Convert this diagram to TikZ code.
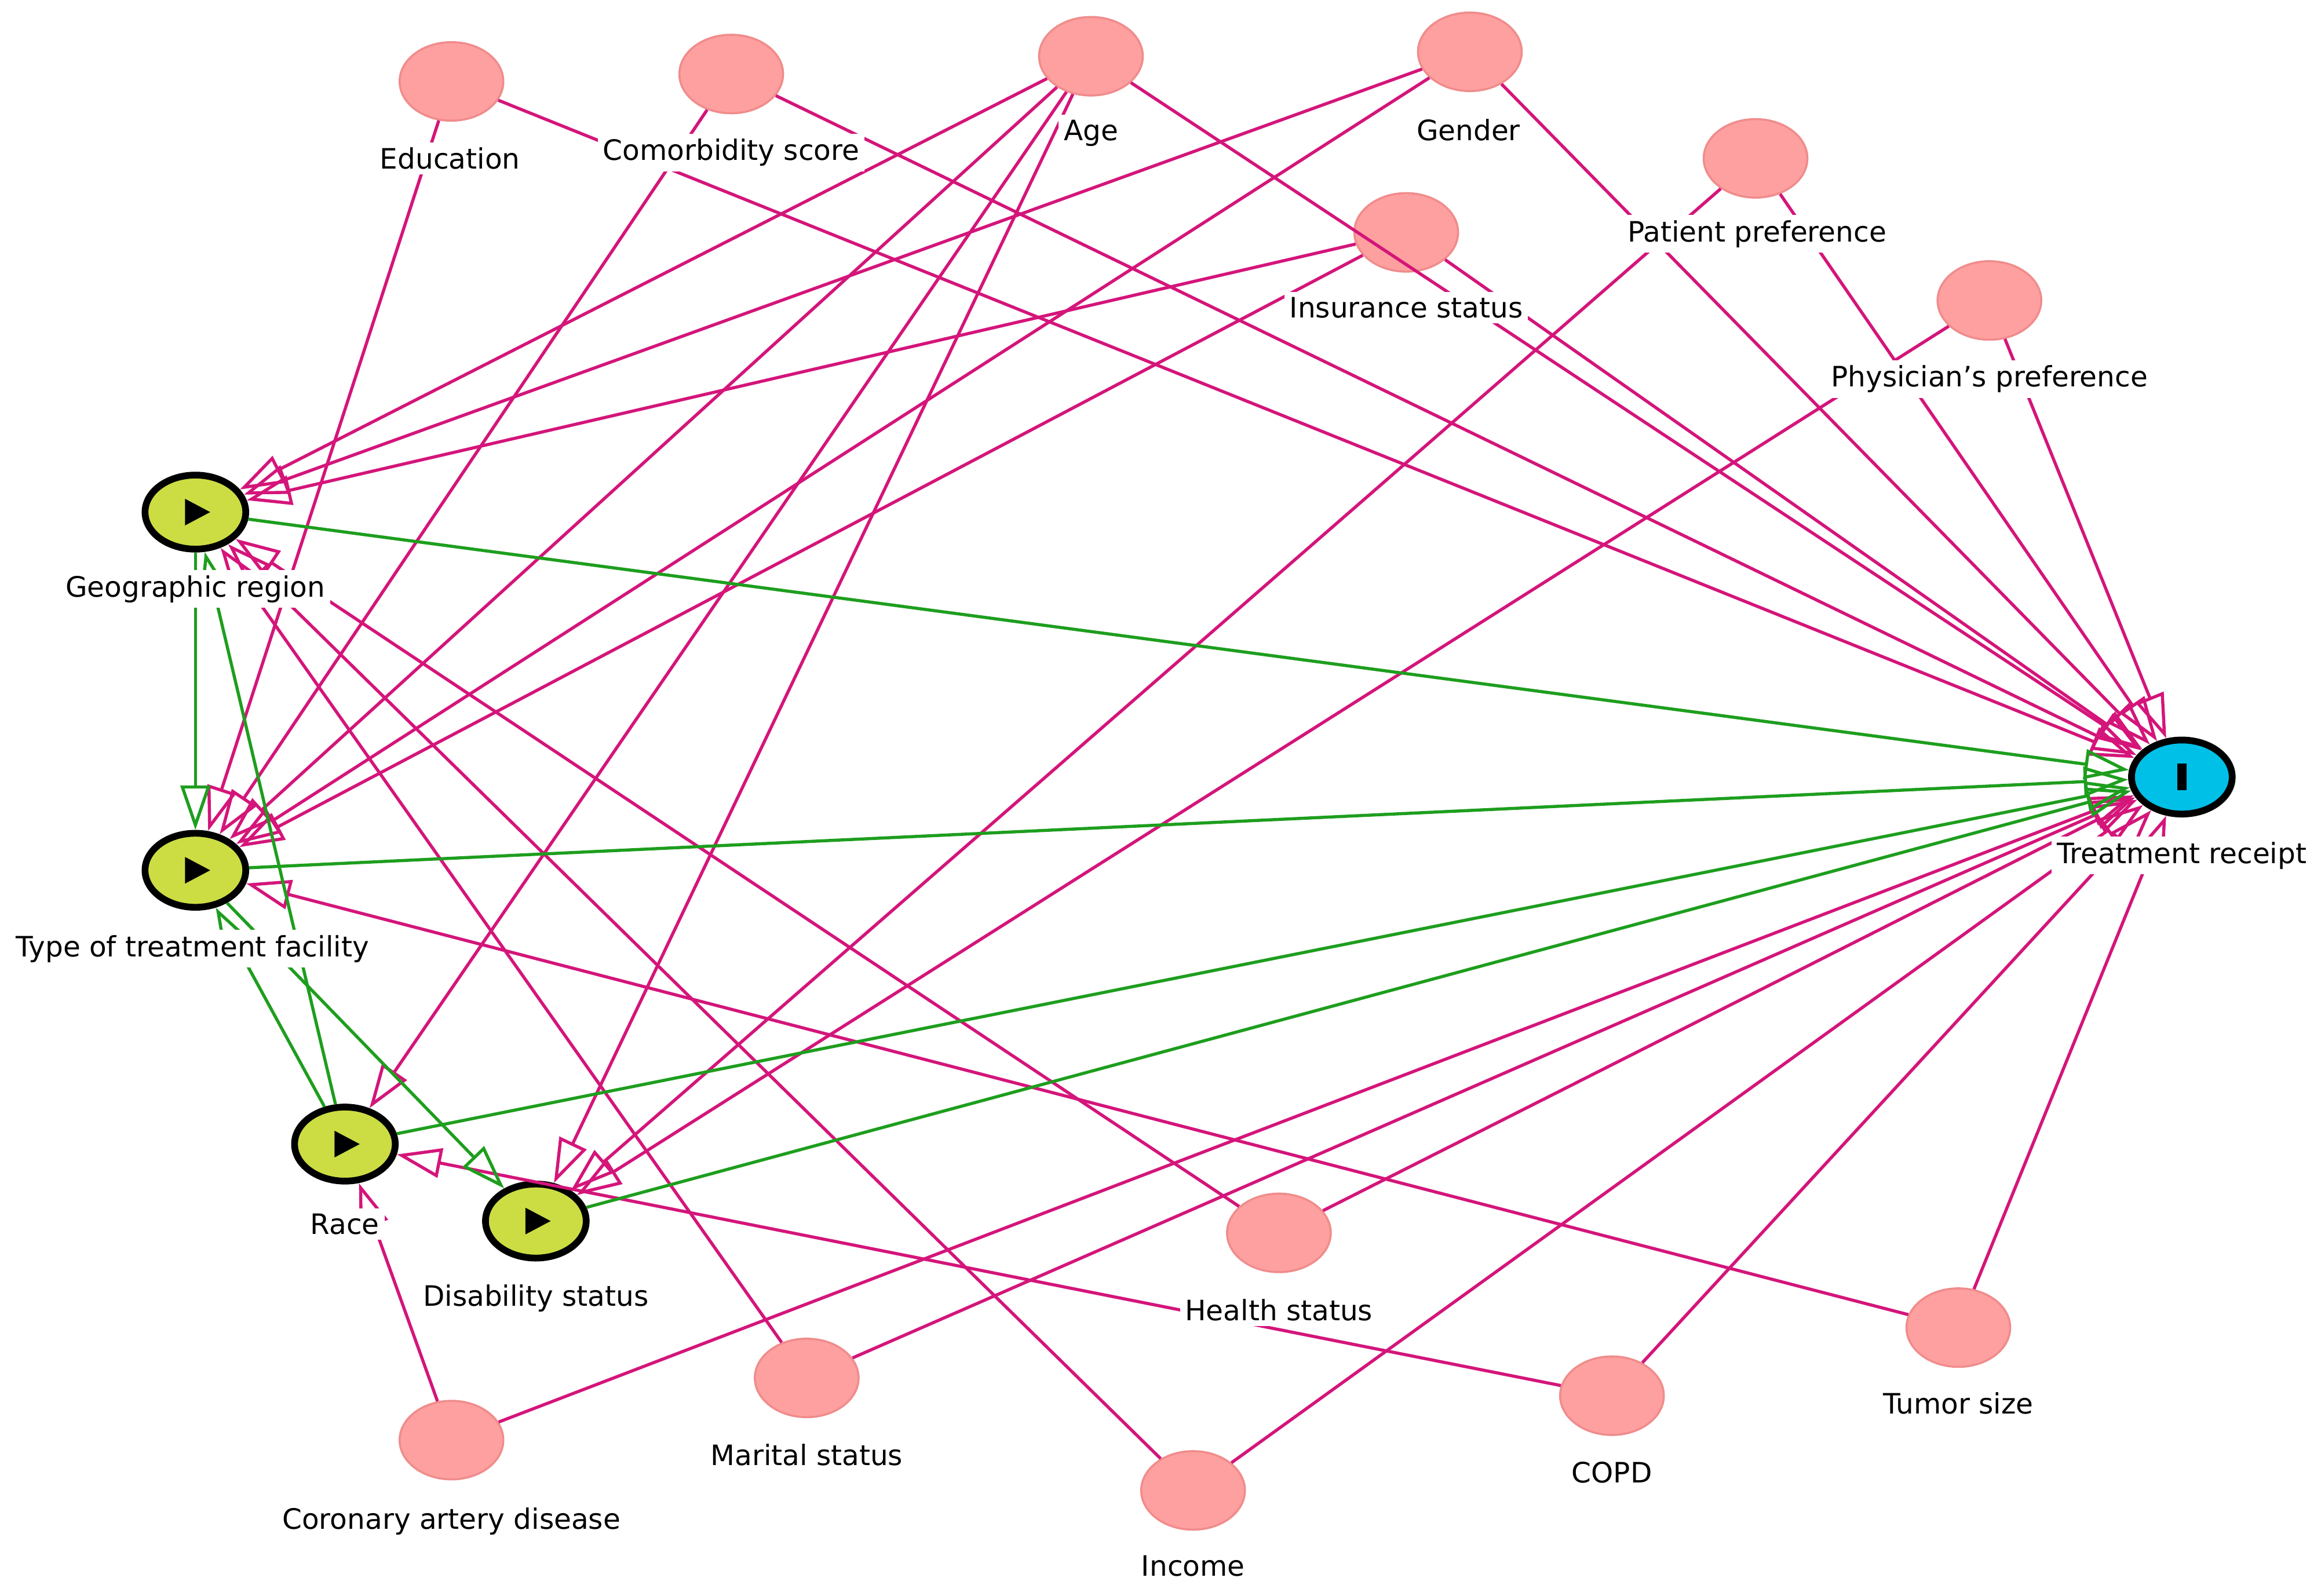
\documentclass[tikz,border=0pt]{standalone}
\usepackage{fontspec}
\setmainfont{DejaVu Sans}
\usetikzlibrary{shapes.geometric,arrows.meta}
\definecolor{pk}{HTML}{FFA0A0}
\definecolor{pkb}{HTML}{F08C8C}
\definecolor{mg}{HTML}{D4157A}
\definecolor{gr}{HTML}{1E9E1E}
\definecolor{yg}{HTML}{CCDD44}
\definecolor{cy}{HTML}{00C0E8}
\begin{document}
\begin{tikzpicture}[x=0.01cm,y=-0.01cm,
  var/.style={ellipse,fill=pk,draw=pkb,line width=0.4pt,minimum width=0.7cm,minimum height=0.53cm,inner sep=0},
  expo/.style={ellipse,fill=yg,draw=black,line width=1.3pt,minimum width=0.68cm,minimum height=0.5cm,inner sep=0},
  outc/.style={ellipse,fill=cy,draw=black,line width=1.3pt,minimum width=0.68cm,minimum height=0.5cm,inner sep=0},
  lab/.style={fill=white,inner sep=1pt,font=\fontsize{5.4}{6}\selectfont},
  pe/.style={draw=mg,line width=0.6pt,-{Triangle[open,length=0.3cm,width=0.2cm]}},
  ge/.style={draw=gr,line width=0.6pt,-{Triangle[open,length=0.3cm,width=0.2cm]}}]
\useasboundingbox (0,0) rectangle (1568,1078);
% nodes
\node[var] (edu) at (305,55) {};
\node[var] (com) at (494,50) {};
\node[var] (age) at (737,38) {};
\node[var] (gen) at (993,35) {};
\node[var] (pat) at (1186,107) {};
\node[var] (ins) at (950,157) {};
\node[var] (phy) at (1344,203) {};
\node[var] (hea) at (864,833) {};
\node[var] (tum) at (1323,897) {};
\node[var] (cop) at (1089,943) {};
\node[var] (mar) at (545,931) {};
\node[var] (cor) at (305,973) {};
\node[var] (inc) at (806,1007) {};
\node[expo] (geo) at (132,346) {};
\node[expo] (typ) at (132,588) {};
\node[expo] (rac) at (233,773) {};
\node[expo] (dis) at (362,825) {};
\node[outc] (tre) at (1474,525) {};
% edges
\foreach \s in {edu,com,age,gen,ins,pat,phy,hea,tum,cop,mar,cor,inc} \draw[pe] (\s) -- (tre);
\foreach \s in {age,gen,ins,hea,mar,inc} \draw[pe] (\s) -- (geo);
\foreach \s in {edu,com,age,gen,ins,tum} \draw[pe] (\s) -- (typ);
\foreach \s in {age,cop,cor} \draw[pe] (\s) -- (rac);
\foreach \s in {age,pat,phy} \draw[pe] (\s) -- (dis);
\foreach \s in {geo,typ,rac,dis} \draw[ge] (\s) -- (tre);
\draw[ge] (geo) -- (typ);
\draw[ge] (rac) -- (geo);
\draw[ge] (rac) -- (typ);
\draw[ge] (typ) -- (dis);
% glyphs
\foreach \n in {geo,typ,rac,dis} \fill ([shift={(-7,-9)}]\n.center) -- ++(0,18) -- ++(17,-9) -- cycle;
\fill ([shift={(-3,-9)}]tre.center) rectangle ++(6,18);
% labels
\node[lab] at (304,107) {Education};
\node[lab] at (494,103) {Comorbidity score};
\node[lab] at (737,90) {Age};
\node[lab] at (992,88) {Gender};
\node[lab] at (1187,158) {Patient preference};
\node[lab] at (950,208) {Insurance status};
\node[lab] at (1344,256) {Physician's preference};
\node[lab] at (132,398) {Geographic region};
\node[lab] at (130,641) {Type of treatment facility};
\node[lab] at (233,827) {Race};
\node[lab] at (362,877) {Disability status};
\node[lab] at (1474,578) {Treatment receipt};
\node[lab] at (864,885) {Health status};
\node[lab] at (1323,948) {Tumor size};
\node[lab] at (1089,995) {COPD};
\node[lab] at (545,983) {Marital status};
\node[lab] at (305,1028) {Coronary artery disease};
\node[lab] at (806,1058) {Income};
\end{tikzpicture}
\end{document}
